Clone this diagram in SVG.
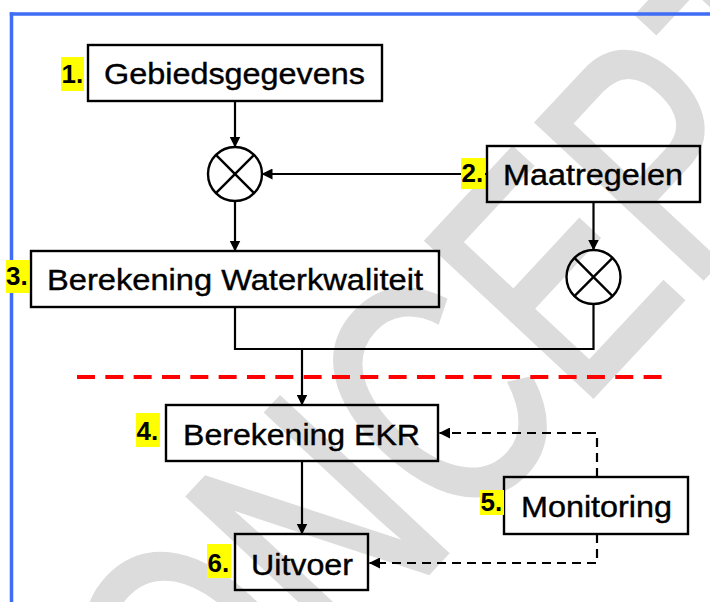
<svg xmlns="http://www.w3.org/2000/svg" width="710" height="602" viewBox="0 0 710 602">
<style>
.box{fill:none;stroke:#000;stroke-width:2.4}
.lbl{font-family:"Liberation Sans",Arial,sans-serif;font-size:30px;fill:#000;stroke:#000;stroke-width:0.4}
.num{font-family:"Liberation Sans",Arial,sans-serif;font-size:26px;font-weight:bold;fill:#000}
.hl{fill:#ffff00}
.ln{fill:none;stroke:#000;stroke-width:2.2}
.dash{fill:none;stroke:#000;stroke-width:2.2;stroke-dasharray:9 6}
.mix{fill:none;stroke:#000;stroke-width:2.4}
</style>
<defs>
<marker id="ah" markerUnits="userSpaceOnUse" markerWidth="11" markerHeight="11" refX="10.5" refY="5.5" orient="auto">
<path d="M0,0 L11,5.5 L0,11 z" fill="#000"/>
</marker>
</defs>
<rect x="0" y="0" width="710" height="602" fill="#fff"/>
<g id="watermark">
<text transform="translate(93,932) rotate(-47) scale(0.734,1)" font-family="Liberation Sans,Arial,sans-serif" font-size="330" fill="#dcdcdc" stroke="#dcdcdc" stroke-width="5">CONCEPT</text>
</g>
<g id="border" fill="none" stroke="#3f6df5" stroke-width="3.5">
<line x1="9.75" y1="14" x2="710" y2="14"/>
<line x1="11.5" y1="12.25" x2="11.5" y2="602"/>
</g>
<line id="divider" x1="77" y1="377" x2="663" y2="377" stroke="#ff0000" stroke-width="4" stroke-dasharray="18 10.33"/>
<g id="connectors">
<line class="ln" x1="235" y1="101" x2="235" y2="147" marker-end="url(#ah)"/>
<line class="ln" x1="487" y1="174" x2="262" y2="174" marker-end="url(#ah)"/>
<line class="ln" x1="235" y1="201" x2="235" y2="251" marker-end="url(#ah)"/>
<line class="ln" x1="593.5" y1="202" x2="593.5" y2="250" marker-end="url(#ah)"/>
<polyline class="ln" points="235,306 235,349 593.5,349 593.5,304"/>
<line class="ln" x1="302" y1="349" x2="302" y2="405" marker-end="url(#ah)"/>
<line class="ln" x1="302" y1="461" x2="302" y2="534" marker-end="url(#ah)"/>
<polyline class="dash" points="597,477 597,433 439.5,433" marker-end="url(#ah)"/>
<polyline class="dash" points="597,534 597,563 369.5,563" marker-end="url(#ah)"/>
</g>
<g id="mixer1">
<circle class="mix" cx="235" cy="174" r="27"/>
<line class="mix" x1="215.9" y1="154.9" x2="254.1" y2="193.1"/>
<line class="mix" x1="254.1" y1="154.9" x2="215.9" y2="193.1"/>
</g>
<g id="mixer2">
<circle class="mix" cx="593.5" cy="277" r="27"/>
<line class="mix" x1="574.4" y1="257.9" x2="612.6" y2="296.1"/>
<line class="mix" x1="612.6" y1="257.9" x2="574.4" y2="296.1"/>
</g>
<g id="node1">
<rect class="box" x="88" y="45" width="294" height="56"/>
<text class="lbl" x="104" y="83.5" textLength="261" lengthAdjust="spacingAndGlyphs">Gebiedsgegevens</text>
<rect class="hl" x="61" y="57" width="23" height="34"/>
<text class="num" x="61.5" y="83">1.</text>
</g>
<g id="node2">
<rect class="box" x="487" y="146" width="213" height="56"/>
<text class="lbl" x="503" y="185" textLength="180" lengthAdjust="spacingAndGlyphs">Maatregelen</text>
<rect class="hl" x="461" y="158" width="24" height="31"/>
<text class="num" x="461.5" y="182">2.</text>
</g>
<g id="node3">
<rect class="box" x="31" y="251" width="408" height="56"/>
<text class="lbl" x="47" y="290" textLength="376" lengthAdjust="spacingAndGlyphs">Berekening Waterkwaliteit</text>
<rect class="hl" x="6" y="260" width="23" height="33"/>
<text class="num" x="6" y="285">3.</text>
</g>
<g id="node4">
<rect class="box" x="166" y="405" width="272" height="56"/>
<text class="lbl" x="183" y="445" textLength="237" lengthAdjust="spacingAndGlyphs">Berekening EKR</text>
<rect class="hl" x="136" y="413" width="24" height="34"/>
<text class="num" x="136.5" y="440">4.</text>
</g>
<g id="node5">
<rect class="box" x="504" y="477" width="184" height="57"/>
<text class="lbl" x="521" y="517" textLength="151" lengthAdjust="spacingAndGlyphs">Monitoring</text>
<rect class="hl" x="480" y="490" width="24" height="25"/>
<text class="num" x="480.5" y="511">5.</text>
</g>
<g id="node6">
<rect class="box" x="235" y="534" width="133" height="56"/>
<text class="lbl" x="251" y="575" textLength="102" lengthAdjust="spacingAndGlyphs">Uitvoer</text>
<rect class="hl" x="207" y="544" width="24" height="34"/>
<text class="num" x="207.5" y="572">6.</text>
</g>
</svg>
